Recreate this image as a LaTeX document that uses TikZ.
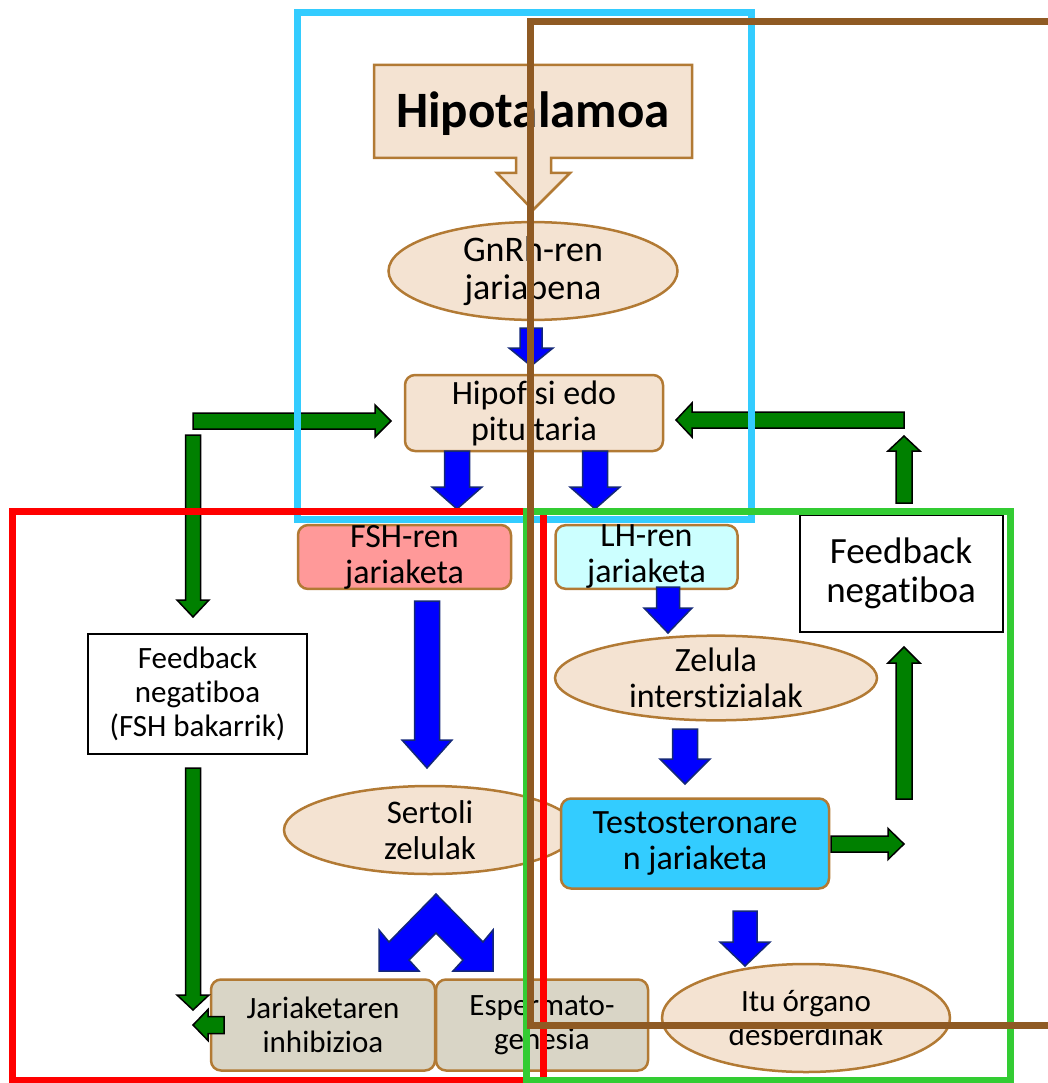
\documentclass[tikz,border=0pt]{standalone}
\usepackage{fontspec}
\setmainfont{Carlito}[Ligatures={NoCommon}]
\usepackage{tikz}
\usetikzlibrary{calc}
\usetikzlibrary{shapes.geometric}
\usepackage{xcolor}
\definecolor{ColPeach}{RGB}{244,227,210}
\definecolor{ColEdge}{RGB}{178,122,52}
\definecolor{ColPink}{RGB}{255,153,153}
\definecolor{ColIce}{RGB}{204,255,255}
\definecolor{ColSky}{RGB}{51,204,255}
\definecolor{ColGrey}{RGB}{217,213,198}
\definecolor{ColBlue}{RGB}{0,0,255}
\definecolor{ColNavy}{RGB}{20,40,120}
\definecolor{ColGreen}{RGB}{0,128,0}
\definecolor{ColFrameGreen}{RGB}{51,204,51}
\definecolor{ColFrameRed}{RGB}{255,0,0}
\definecolor{ColBrown}{RGB}{143,90,35}
\tikzstyle{BoxNode}=[rectangle,rounded corners=10pt,draw=ColEdge,line width=2.5pt,align=center,
inner sep=0pt,font=\fontsize{34}{36}\selectfont]
\tikzstyle{EllNode}=[ellipse,draw=ColEdge,fill=ColPeach,line width=2.5pt,align=center,
inner sep=0pt,font=\fontsize{34}{36}\selectfont]
\tikzstyle{FeedNode}=[rectangle,draw=black,fill=white,line width=2pt,align=center,inner sep=0pt]
\tikzstyle{BlueArr}=[fill=ColBlue,draw=ColNavy,line width=1.5pt,line join=miter]
\tikzstyle{GreenArr}=[fill=ColGreen,draw=black,line width=1.5pt,line join=miter]
\tikzstyle{Frame}=[line width=7pt]
% block arrow: style, from, to, half shaft, half head, head length
\newcommand{\BlockArrow}[6]{%
  \coordinate (ba-h) at ($(#3)!#6!(#2)$);
  \filldraw[#1] ($(#2)!#4!90:(#3)$) -- ($(ba-h)!#4!90:(#3)$) -- ($(ba-h)!#5!90:(#3)$)
    -- (#3) -- ($(ba-h)!#5!-90:(#3)$) -- ($(ba-h)!#4!-90:(#3)$) -- ($(#2)!#4!-90:(#3)$) -- cycle;}

\begin{document}
\begin{tikzpicture}[x=1pt,y=-1pt]
        \useasboundingbox(0,0)rectangle(1048,1083);
        % callout
        \filldraw[fill=ColPeach,draw=ColEdge,line width=2.5pt,line join=miter]
            (374,65)--(692,65)--(692,158)--(551,158)--(551,173)--(570,173)--(533,210)
            --(497,173)--(516,173)--(516,158)--(374,158)--cycle;
        \node[font=\fontsize{51}{51}\selectfont\bfseries](hipotalamoa)at(533,114){Hipotalamoa};
        % nodes
        \node[EllNode,minimum width=289pt,minimum height=90pt,font=\fontsize{36}{38}\selectfont](gnrh)at(533,271){GnRh-ren\\jariapena};
        \node[BoxNode,fill=ColPeach,minimum width=258pt,minimum height=76pt](hipofisi)at(534,413){Hipofisi edo\\pituitaria};
        \node[BoxNode,fill=ColPink,minimum width=213pt,minimum height=61pt](fsh)at(404.5,557){FSH-ren\\jariaketa};
        \node[BoxNode,fill=ColIce,minimum width=182pt,minimum height=61pt](lh)at(646.5,557){LH-ren\\jariaketa};
        \node[FeedNode,minimum width=203pt,minimum height=117pt,font=\fontsize{37}{39}\selectfont](fbright)at(901,573.5){Feedback\\negatiboa};
        \node[FeedNode,minimum width=219pt,minimum height=120pt,font=\fontsize{31}{34}\selectfont](fbleft)at(197.5,694){Feedback\\negatiboa\\(FSH bakarrik)};
        \node[EllNode,minimum width=322pt,minimum height=80pt](zelula)at(716,678){Zelula\\interstizialak};
        \node[EllNode,minimum width=292pt,minimum height=88pt,font=\fontsize{33}{36}\selectfont](sertoli)at(430,830){Sertoli\\zelulak};
        \node[BoxNode,fill=ColSky,minimum width=268pt,minimum height=90pt](testo)at(695,843.5){Testosteronare\\n jariaketa};
        \node[BoxNode,fill=ColGrey,minimum width=224pt,minimum height=91pt,font=\fontsize{31}{34}\selectfont](inhib)at(323,1025){Jariaketaren\\inhibizioa};
        \node[BoxNode,fill=ColGrey,minimum width=212pt,minimum height=91pt,font=\fontsize{31}{34}\selectfont](esperm)at(542,1025){Espermato-\\genesia};
        \node[EllNode,minimum width=288pt,minimum height=108pt,font=\fontsize{31}{34}\selectfont](itu)at(806,1018){Itu órgano\\desberdinak};
        % arrow ends
        \coordinate(gnrhA)at(531,328);\coordinate(gnrhB)at(531,366);
        \coordinate(fshA)at(457,451);\coordinate(fshB)at(457,509);
        \coordinate(lhA)at(595,451);\coordinate(lhB)at(595,509);
        \coordinate(sertA)at(427,601);\coordinate(sertB)at(427,768);
        \coordinate(zelA)at(668,587);\coordinate(zelB)at(668,633);
        \coordinate(testA)at(685,729);\coordinate(testB)at(685,784);
        \coordinate(ituA)at(745,911);\coordinate(ituB)at(745,966);
        \coordinate(lfA)at(193,421);\coordinate(lfB)at(391,421);
        \coordinate(ldA)at(193,435);\coordinate(ldB)at(193,617);
        \coordinate(rfA)at(904,420);\coordinate(rfB)at(676,420);
        \coordinate(ruA)at(904,503);\coordinate(ruB)at(904,436);
        \coordinate(trA)at(831,844);\coordinate(trB)at(904,844);
        \coordinate(tuA)at(904,799);\coordinate(tuB)at(904,647);
        \coordinate(bdA)at(193,768);\coordinate(bdB)at(193,1010);
        \coordinate(blA)at(224,1025);\coordinate(blB)at(193,1025);
        % blue arrows
        \BlockArrow{BlueArr}{gnrhA}{gnrhB}{11pt}{22pt}{18pt}
        \BlockArrow{BlueArr}{fshA}{fshB}{12.5pt}{25pt}{22pt}
        \BlockArrow{BlueArr}{lhA}{lhB}{12.5pt}{25pt}{22pt}
        \BlockArrow{BlueArr}{sertA}{sertB}{12.5pt}{25pt}{28pt}
        \BlockArrow{BlueArr}{zelA}{zelB}{11.5pt}{24pt}{25pt}
        \BlockArrow{BlueArr}{testA}{testB}{12.5pt}{25pt}{25pt}
        \BlockArrow{BlueArr}{ituA}{ituB}{12pt}{25pt}{24pt}
        \filldraw[BlueArr](436,894)--(483,942)--(493,930)--(493,971)--(453,971)--(463,960)--(436,933)
            --(409,960)--(419,971)--(379,971)--(379,930)--(389,942)--cycle;
        % green arrows
        \BlockArrow{GreenArr}{lfA}{lfB}{8pt}{16pt}{16pt}
        \BlockArrow{GreenArr}{ldA}{ldB}{7.5pt}{16pt}{17pt}
        \BlockArrow{GreenArr}{rfA}{rfB}{8pt}{17pt}{16pt}
        \BlockArrow{GreenArr}{ruA}{ruB}{8pt}{16pt}{15pt}
        \BlockArrow{GreenArr}{trA}{trB}{8pt}{15.5pt}{16pt}
        \BlockArrow{GreenArr}{tuA}{tuB}{8pt}{16pt}{16pt}
        \BlockArrow{GreenArr}{bdA}{bdB}{7.5pt}{16pt}{15pt}
        \BlockArrow{GreenArr}{blA}{blB}{8.5pt}{15.5pt}{15pt}
        % frames
        \draw[Frame,ColSky](297,13)rectangle(751,519);
        \draw[Frame,ColFrameRed](12,511)rectangle(543,1080);
        \draw[Frame,ColFrameGreen](526,511)rectangle(1010,1080);
        \draw[Frame,ColBrown](1048,22)--(530,22)--(530,1025)--(1048,1025);
    \end{tikzpicture}
\end{document}
